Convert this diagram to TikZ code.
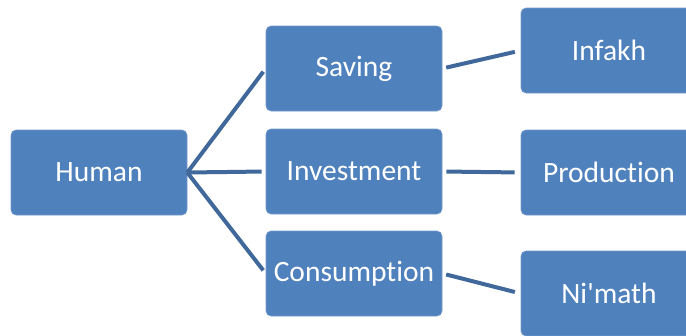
\documentclass[tikz,border=0pt]{standalone}
\usepackage{fontspec}
\newfontfamily\boxfont[Ligatures={NoCommon}]{Carlito}
\definecolor{boxfill}{HTML}{4F81BD}
\definecolor{boxedge}{HTML}{7399CC}
\definecolor{linkcol}{HTML}{41689A}
\begin{document}
\begin{tikzpicture}[x=1pt,y=-1pt,
  box/.style={rectangle, rounded corners=5pt, fill=boxfill, draw=boxedge, line width=0.6pt,
    minimum width=176pt, minimum height=85pt, inner sep=0pt,
    text=white, font=\boxfont\fontsize{29.5}{35}\selectfont},
  link/.style={draw=linkcol, line width=4pt}]
\useasboundingbox (0,0) rectangle (686,335);
\clip (0,0) rectangle (686,335);
\node[box] (human) at (99,172.5) {Human};
\node[box] (saving) at (354,68.5) {Saving};
\node[box] (invest) at (354,171.5) {Investment};
\node[box] (consum) at (354,273.5) {Consumption};
\node[box] (infakh) at (609,50.5) {Infakh};
\node[box] (prod) at (609,172.5) {Production};
\node[box] (nimath) at (609,293.5) {Ni'math};
\draw[link, shorten >=4pt] (human.east) -- (saving.west);
\draw[link, shorten >=4pt] (human.east) -- (invest.west);
\draw[link, shorten >=4pt] (human.east) -- (consum.west);
\draw[link, shorten <=4pt, shorten >=6pt] (saving.east) -- (infakh.west);
\draw[link, shorten <=4pt, shorten >=6pt] (invest.east) -- (prod.west);
\draw[link, shorten <=4pt, shorten >=6pt] (consum.east) -- (nimath.west);
\end{tikzpicture}
\end{document}
